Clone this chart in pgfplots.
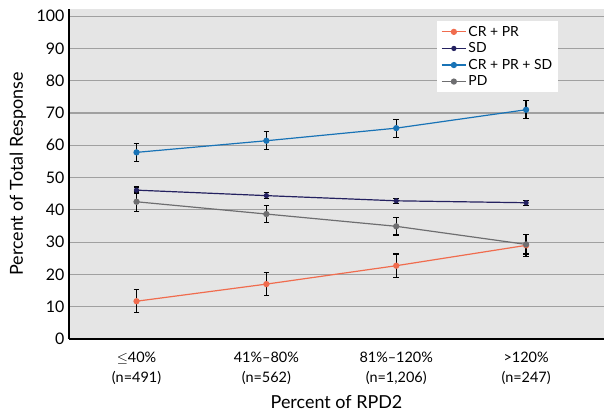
\documentclass[border=0pt]{standalone}
\usepackage{fontspec}
\setmainfont{Lato}
\usepackage{pgfplots}
\pgfplotsset{compat=1.18}
\definecolor{crpr}{RGB}{240,108,78}
\definecolor{sdcol}{RGB}{36,33,96}
\definecolor{allcol}{RGB}{24,115,182}
\definecolor{pdcol}{RGB}{110,110,112}
\definecolor{bgcol}{RGB}{229,229,229}
\definecolor{gridcol}{RGB}{160,160,160}

\begin{document}
\begin{tikzpicture}[x=1bp,y=1bp]
\begin{axis}[
  scale only axis,
  width=535bp, height=330bp,
  xmin=-0.52, xmax=3.6,
  ymin=0, ymax=102.2,
  xtick={0,1,2,3},
  xticklabels={{$\leq$40\%\\(n=491)},{41\%--80\%\\(n=562)},{81\%--120\%\\(n=1,206)},{>120\%\\(n=247)}},
  ytick={0,10,...,100},
  x tick label style={align=center, font=\fontsize{14.5}{20}\selectfont, yshift=-10bp},
  y tick label style={font=\fontsize{16}{18}\selectfont, xshift=-1bp},
  /pgf/number format/assume math mode=true,
  major tick length=0pt,
  axis x line*=bottom, axis y line*=left,
  axis line style={line width=1.8bp, black, -},
  axis background/.style={fill=bgcol},
  ymajorgrids, grid style={gridcol, line width=1.1bp},
  xlabel={Percent of RPD2}, ylabel={Percent of Total Response},
  label style={font=\fontsize{18}{20}\selectfont},
  xlabel style={yshift=-4bp},
  ylabel style={yshift=4bp},
  legend style={at={(0.688,0.964)}, anchor=north west, draw=none, fill=white,
    font=\fontsize{14}{16}\selectfont, row sep=1bp, inner xsep=4bp, inner ysep=3bp},
  legend cell align=left,
  legend image code/.code={\draw[#1] (0bp,0bp) -- (24bp,0bp); \draw[#1, mark repeat=2, mark phase=2] plot coordinates {(0bp,0bp) (12bp,0bp) (24bp,0bp)};},
  every axis plot/.append style={line width=1.2bp, mark=*, mark size=2.5bp},
  error bars/y dir=both, error bars/y explicit,
  error bars/error bar style={black, line width=1.2bp},
  error bars/error mark options={rotate=90, black, mark size=2.8bp, line width=1.2bp},
]
\addplot[crpr, mark options={fill=crpr, draw=crpr}] coordinates {
  (0,11.7) +- (0,3.6)
  (1,17.0) +- (0,3.5)
  (2,22.7) +- (0,3.6)
  (3,29.0) +- (0,3.4)
};
\addlegendentry{CR + PR}
\addplot[sdcol, mark options={fill=sdcol, draw=sdcol}, mark size=2bp] coordinates {
  (0,46.1) +- (0,1.0)
  (1,44.4) +- (0,0.9)
  (2,42.8) +- (0,0.8)
  (3,42.2) +- (0,0.8)
};
\addlegendentry{SD}
\addplot[allcol, mark options={fill=allcol, draw=allcol}] coordinates {
  (0,57.8) +- (0,2.8)
  (1,61.4) +- (0,2.8)
  (2,65.3) +- (0,2.8)
  (3,71.0) +- (0,2.8)
};
\addlegendentry{CR + PR + SD}
\addplot[pdcol, mark options={fill=pdcol, draw=pdcol}] coordinates {
  (0,42.5) +- (0,3.0)
  (1,38.7) +- (0,2.7)
  (2,34.9) +- (0,2.7)
  (3,29.3) +- (0,3.0)
};
\addlegendentry{PD}
\end{axis}
\pgfresetboundingbox
\path[use as bounding box] (current axis.south west) ++(-69bp,-74bp) rectangle ([yshift=9bp]current axis.north east);
\end{tikzpicture}
\end{document}
